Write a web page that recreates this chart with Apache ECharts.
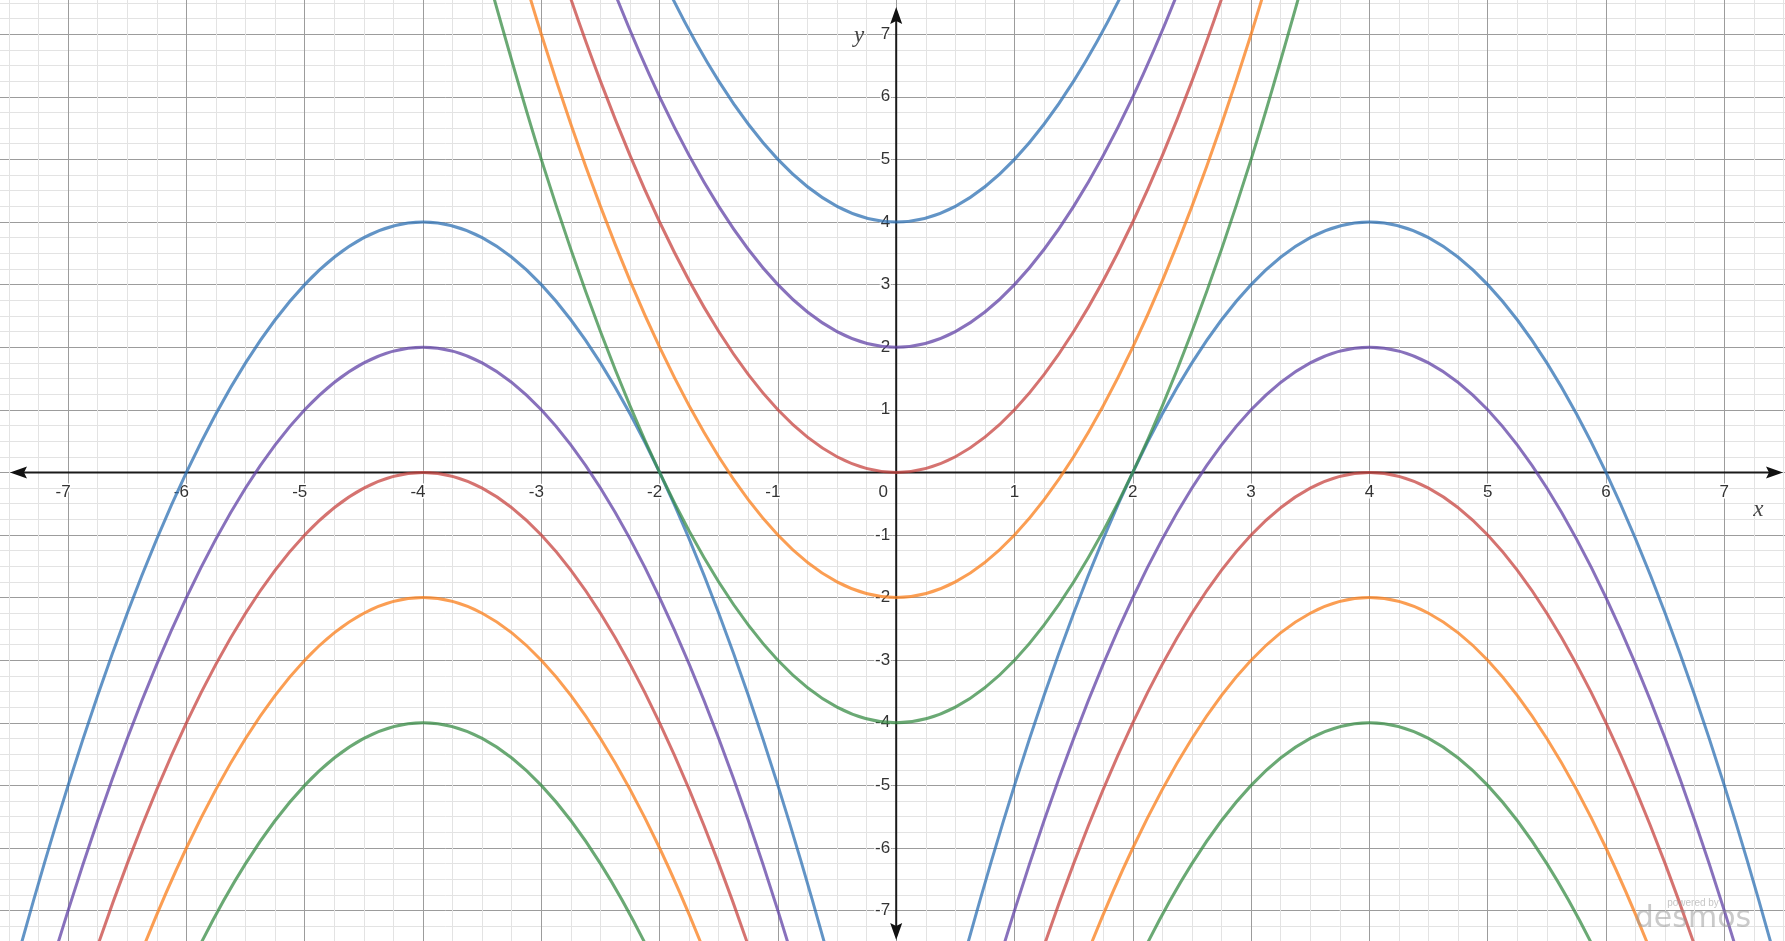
<!DOCTYPE html>
<html>
<head>
<meta charset="utf-8">
<title>Parabolas</title>
<script src="https://cdn.jsdelivr.net/npm/echarts@6/dist/echarts.min.js"></script>
<style>
  html, body { margin: 0; padding: 0; background: #fff; }
  #main { width: 1785px; height: 941px; }
</style>
</head>
<body>
<div id="main"></div>
<script>
// x samples for each family of curves
const xMid = [-3.5, -3, -2.5, -2, -1.5, -1, -0.5, 0, 0.5, 1, 1.5, 2, 2.5, 3, 3.5];
const xLeft = [-8, -7.5, -7, -6.5, -6, -5.5, -5, -4.5, -4, -3.5, -3, -2.5, -2, -1.5, -1, -0.5, 0];
const xRight = [0, 0.5, 1, 1.5, 2, 2.5, 3, 3.5, 4, 4.5, 5, 5.5, 6, 6.5, 7, 7.5, 8];

// middle curves (opening up, vertex on x = 0)
const midBlue = [16.25, 13, 10.25, 8, 6.25, 5, 4.25, 4, 4.25, 5, 6.25, 8, 10.25, 13, 16.25];
const midPurple = [14.25, 11, 8.25, 6, 4.25, 3, 2.25, 2, 2.25, 3, 4.25, 6, 8.25, 11, 14.25];
const midRed = [12.25, 9, 6.25, 4, 2.25, 1, 0.25, 0, 0.25, 1, 2.25, 4, 6.25, 9, 12.25];
const midOrange = [10.25, 7, 4.25, 2, 0.25, -1, -1.75, -2, -1.75, -1, 0.25, 2, 4.25, 7, 10.25];
const midGreen = [8.25, 5, 2.25, 0, -1.75, -3, -3.75, -4, -3.75, -3, -1.75, 0, 2.25, 5, 8.25];

// side curves (opening down, vertex on x = -4 and x = 4, same values on both sides)
const sideBlue = [-12, -8.25, -5, -2.25, 0, 1.75, 3, 3.75, 4, 3.75, 3, 1.75, 0, -2.25, -5, -8.25, -12];
const sidePurple = [-14, -10.25, -7, -4.25, -2, -0.25, 1, 1.75, 2, 1.75, 1, -0.25, -2, -4.25, -7, -10.25, -14];
const sideRed = [-16, -12.25, -9, -6.25, -4, -2.25, -1, -0.25, 0, -0.25, -1, -2.25, -4, -6.25, -9, -12.25, -16];
const sideOrange = [-18, -14.25, -11, -8.25, -6, -4.25, -3, -2.25, -2, -2.25, -3, -4.25, -6, -8.25, -11, -14.25, -18];
const sideGreen = [-20, -16.25, -13, -10.25, -8, -6.25, -5, -4.25, -4, -4.25, -5, -6.25, -8, -10.25, -13, -16.25, -20];

const BLUE = '#2d70b3', PURPLE = '#6042a6', RED = '#c74440', ORANGE = '#fa7e19', GREEN = '#388c46';

const curves = [
  [xLeft, sideGreen, GREEN], [xLeft, sideOrange, ORANGE], [xLeft, sideRed, RED], [xLeft, sidePurple, PURPLE], [xLeft, sideBlue, BLUE],
  [xRight, sideGreen, GREEN], [xRight, sideOrange, ORANGE], [xRight, sideRed, RED], [xRight, sidePurple, PURPLE], [xRight, sideBlue, BLUE],
  [xMid, midGreen, GREEN], [xMid, midOrange, ORANGE], [xMid, midRed, RED], [xMid, midPurple, PURPLE], [xMid, midBlue, BLUE]
];

function pairs(xs, ys) {
  return xs.map(function (x, i) { return [x, ys[i]]; });
}

// pixel frame: origin at (896.2, 472.4), 118.3 px per x unit, 62.6 px per y unit
const GL = -50.2, GT = -28.4, GW = 1892.8, GH = 1001.6;
const OX = 896.2, OY = 472.4;

const labelFont = {
  fontFamily: 'Liberation Sans',
  fontSize: 17,
  color: '#333',
  textBorderColor: '#fff',
  textBorderWidth: 3
};

const hidden = {
  axisLine: { show: false }, axisTick: { show: false },
  axisLabel: { show: false }, splitLine: { show: false }
};

const chart = echarts.init(document.getElementById('main'));

const option = {
  animation: false,
  backgroundColor: '#fff',
  grid: [
    // plot area (larger than the canvas so that -8..8 maps past the edges)
    { left: GL, top: GT, width: GW, height: GH, containLabel: false, outerBoundsMode: 'none' },
    // bottom edge on y = 0 : carries x tick labels
    { left: GL, top: GT, width: GW, height: OY - GT, containLabel: false, outerBoundsMode: 'none' },
    // left edge on x = 0 : carries y tick labels
    { left: OX, top: GT, width: GL + GW - OX, height: GH, containLabel: false, outerBoundsMode: 'none' }
  ],
  xAxis: [
    {
      gridIndex: 0, type: 'value', min: -8, max: 8, interval: 1,
      axisLine: { show: false }, axisTick: { show: false }, axisLabel: { show: false },
      minorTick: { show: false, splitNumber: 4 },
      splitLine: { show: true, lineStyle: { color: '#9c9c9c', width: 1 } },
      minorSplitLine: { show: true, lineStyle: { color: '#e3e3e3', width: 1 } }
    },
    Object.assign({}, hidden, {
      gridIndex: 1, type: 'value', min: -8, max: 8, interval: 1, position: 'bottom',
      axisLine: { show: false, onZero: false },
      axisLabel: Object.assign({
        show: true,
        margin: 11,
        showMinLabel: false,
        showMaxLabel: false,
        formatter: function (v) {
          if (v === 0) return '{o|0}';
          return v < 0 ? '{m|' + v + '}' : '{p|' + v + '}';
        },
        rich: {
          o: Object.assign({ padding: [0, 26, 0, 0] }, labelFont),
          m: Object.assign({ padding: [0, 10, 0, 0] }, labelFont),
          p: Object.assign({}, labelFont)
        }
      }, labelFont)
    }),
    Object.assign({}, hidden, { gridIndex: 2, type: 'value', min: 0, max: 8 })
  ],
  yAxis: [
    {
      gridIndex: 0, type: 'value', min: -8, max: 8, interval: 1,
      axisLine: { show: false }, axisTick: { show: false }, axisLabel: { show: false },
      minorTick: { show: false, splitNumber: 4 },
      splitLine: { show: true, lineStyle: { color: '#9c9c9c', width: 1 } },
      minorSplitLine: { show: true, lineStyle: { color: '#e3e3e3', width: 1 } }
    },
    Object.assign({}, hidden, { gridIndex: 1, type: 'value', min: 0, max: 8 }),
    Object.assign({}, hidden, {
      gridIndex: 2, type: 'value', min: -8, max: 8, interval: 1, position: 'left',
      axisLine: { show: false, onZero: false },
      axisLabel: Object.assign({
        show: true,
        margin: 6,
        showMinLabel: false,
        showMaxLabel: false,
        formatter: function (v) { return v === 0 ? '' : String(v); }
      }, labelFont)
    })
  ],
  series: curves.map(function (c) {
    return {
      type: 'line',
      xAxisIndex: 0,
      yAxisIndex: 0,
      data: pairs(c[0], c[1]),
      smooth: 0.33,
      symbol: 'none',
      clip: true,
      lineStyle: { color: c[2], width: 3, opacity: 0.75 },
      itemStyle: { color: c[2] }
    };
  })
};

chart.setOption(option);

// axes with arrow heads, plus axis names and watermark
const o = chart.convertToPixel({ gridIndex: 0 }, [0, 0]);
const p7 = chart.convertToPixel({ gridIndex: 0 }, [7, 7]);
const W = chart.getWidth(), H = chart.getHeight();
const ox = o[0], oy = o[1];

function arrow(tx, ty, dx, dy) {
  const len = 17, hw = 6, notch = 3;
  const px = -dy, py = dx;
  return {
    type: 'polygon',
    z: 1,
    shape: {
      points: [
        [tx, ty],
        [tx - dx * len + px * hw, ty - dy * len + py * hw],
        [tx - dx * (len - notch), ty - dy * (len - notch)],
        [tx - dx * len - px * hw, ty - dy * len - py * hw]
      ]
    },
    style: { fill: '#111' }
  };
}

const axisStyle = { stroke: '#1a1a1a', lineWidth: 2 };

chart.setOption({
  graphic: [
    { type: 'line', z: 1, shape: { x1: 14, y1: oy, x2: W - 6, y2: oy }, style: axisStyle },
    { type: 'line', z: 1, shape: { x1: ox, y1: 11, x2: ox, y2: H - 5 }, style: axisStyle },
    arrow(10, oy, -1, 0),
    arrow(W - 2, oy, 1, 0),
    arrow(ox, 7, 0, -1),
    arrow(ox, H - 1, 0, 1),
    {
      type: 'text', z: 5, x: ox - 37, y: p7[1] + 2,
      style: { text: 'y', font: 'italic 23px "Liberation Serif"', fill: '#444', align: 'center', verticalAlign: 'middle' }
    },
    {
      type: 'text', z: 5, x: p7[0] + 34, y: oy + 38,
      style: { text: 'x', font: 'italic 23px "Liberation Serif"', fill: '#444', align: 'center', verticalAlign: 'middle' }
    },
    {
      type: 'text', z: 100, x: W - 92, y: H - 38,
      style: { text: 'powered by', font: '10px "Liberation Sans"', fill: 'rgba(150,150,150,0.55)', align: 'center', verticalAlign: 'middle' }
    },
    {
      type: 'text', z: 100, x: W - 92, y: H - 22,
      style: { text: 'desmos', font: '30px "DejaVu Sans"', fill: 'rgba(150,150,150,0.5)', align: 'center', verticalAlign: 'middle' }
    }
  ]
});
</script>
</body>
</html>
